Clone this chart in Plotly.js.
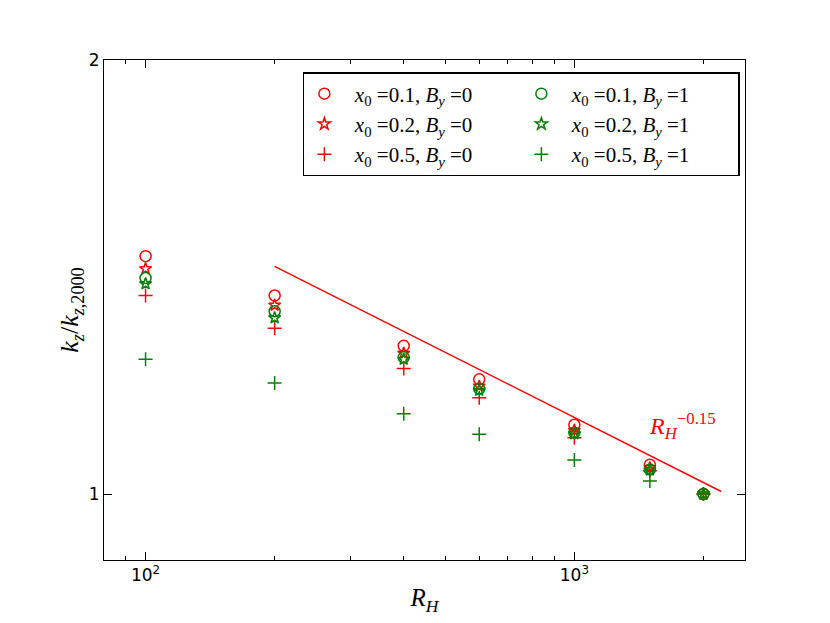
<!DOCTYPE html>
<html>
<head>
<meta charset="utf-8">
<script src="https://cdn.plot.ly/plotly-3.0.1.min.js"></script>
<style>
  html, body { margin: 0; padding: 0; background: #fff; }
  #chart { width: 830px; height: 623px; }
</style>
</head>
<body>
<div id="chart"></div>
<script>
// data ------------------------------------------------------------------------
const rh = [100, 200, 400, 600, 1000, 1500, 2000];

const x01By0 = [1.462, 1.373, 1.267, 1.201, 1.117, 1.048, 1.0];
const x02By0 = [1.433, 1.352, 1.252, 1.188, 1.107, 1.043, 1.0];
const x05By0 = [1.373, 1.303, 1.222, 1.166, 1.094, 1.038, 1.0];
const x01By1 = [1.412, 1.339, 1.244, 1.183, 1.103, 1.040, 1.0];
const x02By1 = [1.399, 1.325, 1.240, 1.180, 1.101, 1.039, 1.0];
const x05By1 = [1.240, 1.194, 1.137, 1.100, 1.056, 1.021, 1.0];

// R_H^-0.15 guide line end points
const fitX = [200, 2200];
const fitY = [1.4385, 1.004];

const xTickVals = [100, 1000];
const xTickText = ["10<sup>2</sup>", "10<sup>3</sup>"];
const xMinorVals = [80, 90, 200, 300, 400, 500, 600, 700, 800, 900, 2000];
const yTickVals = [1, 2];
const yTickText = ["1", "2"];

const RED = "#ff0000";
const GREEN = "#008000";
const MATH = "Liberation Serif, DejaVu Serif, serif";

function label(x0, by) {
	return "\u00a0\u00a0<i>x</i><sub>0</sub> =" + x0 + ", <i>B</i><sub><i>y</i></sub> =" + by;
}

function series(y, color, symbol, size, name, rank) {
	return {
		x: rh,
		y: y,
		type: "scatter",
		mode: "markers",
		name: name,
		legendrank: rank,
		marker: {
			symbol: symbol,
			size: size,
			color: color,
			line: { color: color, width: 1.5 },
		},
	};
}

// red drawn first, green on top; legend ranks give the two-column order
var data = [
	series(x01By0, RED, "circle-open", 11, label("0.1", 0), 1),
	series(x02By0, RED, "star-open", 9, label("0.2", 0), 3),
	series(x05By0, RED, "cross-thin-open", 10, label("0.5", 0), 5),
	series(x01By1, GREEN, "circle-open", 11, label("0.1", 1), 2),
	series(x02By1, GREEN, "star-open", 9, label("0.2", 1), 4),
	series(x05By1, GREEN, "cross-thin-open", 10, label("0.5", 1), 6),
	{
		x: fitX,
		y: fitY,
		type: "scatter",
		mode: "lines",
		showlegend: false,
		line: { color: RED, width: 1.5 },
	},
];

var axisCommon = {
	type: "log",
	showline: true,
	linecolor: "#000",
	linewidth: 1,
	mirror: "ticks",
	ticks: "inside",
	ticklen: 8,
	tickwidth: 1,
	tickcolor: "#000",
	showgrid: false,
	zeroline: false,
	tickmode: "array",
	tickfont: { family: "DejaVu Sans, sans-serif", size: 17, color: "#000" },
};

var layout = {
	width: 830,
	height: 623,
	margin: { l: 104, r: 85, t: 60, b: 63 },
	paper_bgcolor: "#fff",
	plot_bgcolor: "#fff",
	showlegend: true,
	xaxis: Object.assign({}, axisCommon, {
		range: [Math.log10(80), Math.log10(2500)],
		tickvals: xTickVals,
		ticktext: xTickText,
		minor: { tickmode: "array", tickvals: xMinorVals, ticks: "inside", ticklen: 4, tickcolor: "#000", tickwidth: 1 },
		title: {
			text: "<i>R</i><sub><i>H</i></sub>",
			font: { family: MATH, size: 25, color: "#000" },
			standoff: 4,
		},
	}),
	yaxis: Object.assign({}, axisCommon, {
		range: [Math.log10(0.9), Math.log10(2)],
		tickvals: yTickVals,
		ticktext: yTickText,
		title: {
			text: "<i>k</i><sub><i>z</i></sub>/<i>k</i><sub><i>z</i>,2000</sub>",
			font: { family: MATH, size: 26, color: "#000" },
			standoff: 2,
		},
	}),
	legend: {
		orientation: "h",
		x: 0.992,
		xanchor: "right",
		y: 0.976,
		yanchor: "top",
		entrywidth: 172,
		entrywidthmode: "pixels",
		bordercolor: "#000",
		borderwidth: 1.5,
		bgcolor: "#fff",
		font: { family: MATH, size: 21, color: "#000" },
		itemsizing: "trace",
	},
	annotations: [
		{
			x: Math.log10(1790),
			y: Math.log10(1.1155),
			xref: "x",
			yref: "y",
			text: "<i>R</i><sub><i>H</i></sub><sup>−0.15</sup>",
			showarrow: false,
			font: { family: MATH, size: 24, color: RED },
		},
	],
};

Plotly.newPlot("chart", data, layout, { staticPlot: true });
</script>
</body>
</html>
